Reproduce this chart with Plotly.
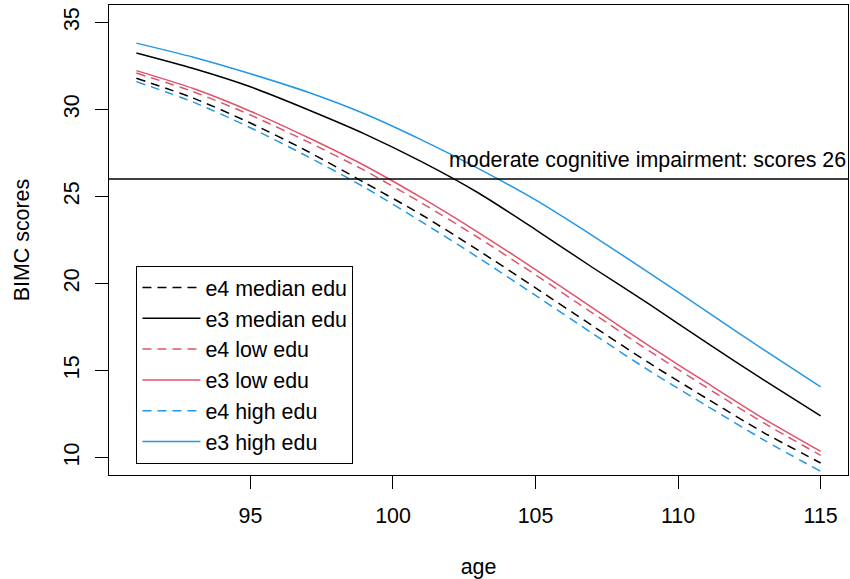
import plotly.graph_objects as go

age = [91, 93, 95, 97, 99, 101, 103, 105, 107, 109, 111, 113, 115]

e4_median = [31.79, 30.65, 29.22, 27.60, 25.80, 23.95, 21.90, 19.75, 17.57, 15.42, 13.40, 11.44, 9.69]
e3_median = [33.24, 32.35, 31.30, 30.00, 28.60, 27.00, 25.20, 23.10, 20.92, 18.80, 16.60, 14.46, 12.39]
e4_low    = [32.09, 31.02, 29.68, 28.15, 26.50, 24.63, 22.63, 20.50, 18.30, 16.11, 14.03, 11.99, 10.13]
e3_low    = [32.23, 31.20, 29.90, 28.40, 26.78, 24.93, 22.93, 20.80, 18.60, 16.40, 14.30, 12.24, 10.36]
e4_high   = [31.60, 30.42, 28.95, 27.30, 25.53, 23.55, 21.48, 19.32, 17.13, 14.98, 12.98, 11.02, 9.21]
e3_high   = [33.81, 33.00, 32.05, 31.00, 29.75, 28.25, 26.60, 24.80, 22.75, 20.60, 18.40, 16.20, 14.06]

series_names = ["e4 median edu", "e3 median edu", "e4 low edu", "e3 low edu", "e4 high edu", "e3 high edu"]
series_values = [e4_median, e3_median, e4_low, e3_low, e4_high, e3_high]
series_colors = ["black", "black", "#DF536B", "#DF536B", "#2297E6", "#2297E6"]
series_dash = ["9px,6px", "solid", "9px,6px", "solid", "9px,6px", "solid"]

threshold = 26
threshold_label = "moderate cognitive impairment: scores 26"

x_ticks = [95, 100, 105, 110, 115]
y_ticks = [10, 15, 20, 25, 30, 35]

FONT = "Liberation Sans, Arial, Helvetica, sans-serif"
FS = 21.4

fig = go.Figure()
for name, vals, col, dash in zip(series_names, series_values, series_colors, series_dash):
    fig.add_trace(go.Scatter(
        x=age, y=vals, mode="lines", name=name,
        line=dict(color=col, width=1.5, dash=dash, shape="spline", smoothing=0.7),
    ))

fig.add_shape(type="line", xref="paper", x0=0, x1=1, yref="y", y0=threshold, y1=threshold,
              line=dict(color="black", width=1.4))
fig.add_annotation(x=1, xref="paper", xanchor="right", y=threshold, yref="y", yanchor="bottom",
                   yshift=5, text=threshold_label, showarrow=False,
                   font=dict(family=FONT, size=FS, color="black"))

fig.update_layout(
    width=850, height=579,
    margin=dict(l=109, r=2, t=5, b=104, autoexpand=False),
    paper_bgcolor="white", plot_bgcolor="white",
    font=dict(family=FONT, size=FS, color="black"),
    showlegend=True,
    legend=dict(
        x=0.0369, y=0.445, xanchor="left", yanchor="top",
        bordercolor="black", borderwidth=1.2, bgcolor="white",
        font=dict(family=FONT, size=FS, color="black"),
        itemwidth=58,
    ),
)
fig.update_xaxes(
    range=[90.04, 115.96], tickvals=x_ticks, ticktext=[str(v) for v in x_ticks],
    showgrid=False, zeroline=False, showline=True, mirror=True, automargin=False,
    linecolor="black", linewidth=1.3, ticks="outside", ticklen=13, tickwidth=1.2,
    tickcolor="black", ticklabelstandoff=8,
    title=dict(text="age", standoff=39, font=dict(family=FONT, size=FS)),
)
fig.update_yaxes(
    range=[9.0, 36.0], tickvals=y_ticks, ticktext=[str(v) for v in y_ticks],
    showgrid=False, zeroline=False, showline=True, mirror=True, automargin=False,
    linecolor="black", linewidth=1.3, ticks="outside", ticklen=13, tickwidth=1.2,
    tickcolor="black", tickangle=-90, ticklabelstandoff=7,
    title=dict(text="BIMC scores", standoff=24, font=dict(family=FONT, size=FS)),
)

fig.write_html("out.html", config={"displayModeBar": False},
               post_script="document.body.style.margin='0';")
